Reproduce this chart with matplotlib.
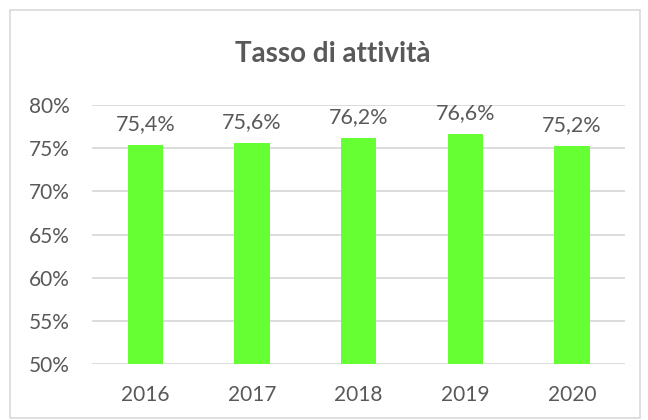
import matplotlib.pyplot as plt
from matplotlib.patches import Rectangle

anni = ['2016', '2017', '2018', '2019', '2020']
tasso = [75.4, 75.6, 76.2, 76.6, 75.2]
etichette = ['75,4%', '75,6%', '76,2%', '76,6%', '75,2%']
yticks = [50, 55, 60, 65, 70, 75, 80]

plt.rcParams['font.family'] = ['Lato', 'DejaVu Sans']
grigio = '#595959'

fig = plt.figure(figsize=(6.48, 4.2), dpi=100)
ax = fig.add_axes([0.142, 0.133, 0.823, 0.617])

x = range(len(anni))
bars = ax.bar(x, tasso, width=0.33, color='#66ff33', zorder=3)
for b, lab in zip(bars, etichette):
    ax.annotate(lab, (b.get_x() + b.get_width() / 2, b.get_height()),
                xytext=(0, 8), textcoords='offset points',
                ha='center', va='bottom', fontsize=15.5, color=grigio)

ax.set_xlim(-0.5, len(anni) - 0.5)
ax.set_ylim(50, 80)
ax.set_yticks(yticks)
ax.set_yticklabels([f'{v}%' for v in yticks])
ax.set_xticks(list(x))
ax.set_xticklabels(anni)
ax.tick_params(length=0, labelsize=15, colors=grigio)
ax.tick_params(axis='x', pad=15)
ax.tick_params(axis='y', pad=16)
ax.grid(axis='y', color='#d9d9d9', linewidth=1.3, zorder=0)
for s in ax.spines.values():
    s.set_visible(False)

fig.text(0.513, 0.872, 'Tasso di attività', ha='center', va='center',
         fontsize=20, fontweight='bold', color=grigio)

fig.patches.append(Rectangle((10 / 648, 0.005), 630 / 648, 1 - 10 / 420 - 0.005,
                             transform=fig.transFigure, fill=False,
                             edgecolor='#d9d9d9', linewidth=1.2))

fig.savefig('out.png', dpi=100)
